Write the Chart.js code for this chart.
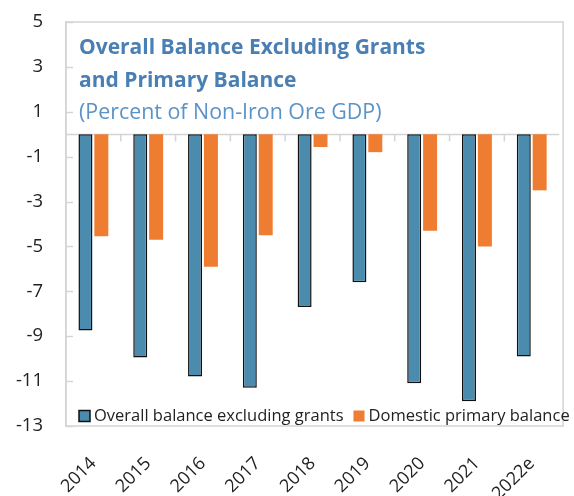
<!DOCTYPE html>
<html>
<head>
<meta charset="utf-8">
<script src="https://cdn.jsdelivr.net/npm/chart.js@4/dist/chart.umd.min.js"></script>
<style>
    html, body { margin: 0; padding: 0; background: #fff; }
    #wrap { width: 574px; height: 496px; }
</style>
</head>
<body>
<div id="wrap"><canvas id="balanceChart"></canvas></div>
<script>
// data
const years = ['2014', '2015', '2016', '2017', '2018', '2019', '2020', '2021', '2022e'];
const overallExGrants = [-8.75, -9.95, -10.8, -11.3, -7.7, -6.6, -11.1, -11.9, -9.9];
const domesticPrimary = [-4.55, -4.7, -5.9, -4.5, -0.57, -0.8, -4.3, -5.0, -2.5];
const yTicks = [5, 3, 1, -1, -3, -5, -7, -9, -11, -13];

const titleLines = ['Overall Balance Excluding Grants', 'and Primary Balance'];
const subTitle = '(Percent of Non-Iron Ore GDP)';

const FONT = '"Open Sans", "Noto Sans", sans-serif';
const AXIS_GREY = '#d4d4d4';

// box, zero line, small ticks, title and legend drawn inside the plot
const decorations = {
    id: 'decorations',
    beforeDatasetsDraw(chart) {
        const { ctx, chartArea: a, scales: { x, y } } = chart;
        ctx.save();
        ctx.strokeStyle = AXIS_GREY;
        ctx.lineWidth = 1.5;
        ctx.strokeRect(a.left, a.top, a.right - a.left + 4, a.bottom - a.top);

        // zero line
        const y0 = Math.round(y.getPixelForValue(0)) + 0.5;
        ctx.beginPath();
        ctx.moveTo(a.left, y0);
        ctx.lineTo(a.right, y0);
        ctx.stroke();

        // category separators hanging from the zero line
        for (let i = 1; i < years.length; i++) {
            const px = (x.getPixelForValue(i - 1) + x.getPixelForValue(i)) / 2;
            ctx.beginPath();
            ctx.moveTo(px, y0);
            ctx.lineTo(px, y0 + 7);
            ctx.stroke();
        }

        // y ticks pointing inward
        yTicks.forEach(v => {
            const py = Math.round(y.getPixelForValue(v)) + 0.5;
            ctx.beginPath();
            ctx.moveTo(a.left, py);
            ctx.lineTo(a.left + 7, py);
            ctx.stroke();
        });
        ctx.restore();
    },
    afterDraw(chart) {
        const { ctx, chartArea: a } = chart;
        ctx.save();
        ctx.textAlign = 'left';
        ctx.textBaseline = 'alphabetic';

        // title
        ctx.fillStyle = '#4a7fb3';
        ctx.font = 'bold 21px ' + FONT;
        ctx.fillText(titleLines[0], a.left + 13, 54);
        ctx.fillText(titleLines[1], a.left + 13, 87);
        ctx.fillStyle = '#5a93c8';
        ctx.font = '21.4px ' + FONT;
        ctx.fillText(subTitle, a.left + 13, 119);

        // legend
        ctx.font = '16.5px ' + FONT;
        ctx.textBaseline = 'middle';
        const ly = 416;
        let lx = a.left + 13;
        chart.data.datasets.forEach(ds => {
            ctx.fillStyle = ds.backgroundColor;
            ctx.fillRect(lx, ly - 5.5, 11, 11);
            if (ds.borderWidth) {
                ctx.strokeStyle = ds.borderColor;
                ctx.lineWidth = 1.5;
                ctx.strokeRect(lx, ly - 5.5, 11, 11);
            }
            ctx.fillStyle = '#222';
            ctx.fillText(ds.label, lx + 15, ly);
            lx += 15 + ctx.measureText(ds.label).width + 10;
        });
        ctx.restore();
    }
};

new Chart(document.getElementById('balanceChart'), {
    type: 'bar',
    data: {
        labels: years,
        datasets: [{
            label: 'Overall balance excluding grants',
            data: overallExGrants,
            backgroundColor: '#4a8bae',
            borderColor: '#111',
            borderWidth: 1.5,
            borderSkipped: false
        }, {
            label: 'Domestic primary balance',
            data: domesticPrimary,
            backgroundColor: '#ee7d31',
            borderWidth: 0
        }]
    },
    options: {
        responsive: true,
        maintainAspectRatio: false,
        animation: false,
        categoryPercentage: 0.58,
        barPercentage: 0.88,
        layout: { padding: { top: 22, right: 0, left: 0, bottom: 0 } },
        plugins: {
            legend: { display: false },
            tooltip: { enabled: false }
        },
        scales: {
            x: {
                grid: { display: false, drawTicks: false },
                border: { display: false },
                ticks: {
                    color: '#222',
                    font: { family: FONT, size: 18 },
                    minRotation: 45,
                    maxRotation: 45,
                    autoSkip: false,
                    padding: 27
                },
                afterFit(scale) { scale.height = 70; }
            },
            y: {
                min: -13,
                max: 5,
                grid: { display: false, drawTicks: false },
                border: { display: true, color: AXIS_GREY, width: 1.5 },
                ticks: {
                    color: '#222',
                    font: { family: FONT, size: 18.5 },
                    padding: 23
                },
                afterBuildTicks(scale) { scale.ticks = yTicks.map(v => ({ value: v })); },
                afterFit(scale) {
                    scale.width = 66;
                    scale.paddingTop = 0;
                    scale.paddingBottom = 0;
                }
            }
        }
    },
    plugins: [decorations]
});
</script>
</body>
</html>
